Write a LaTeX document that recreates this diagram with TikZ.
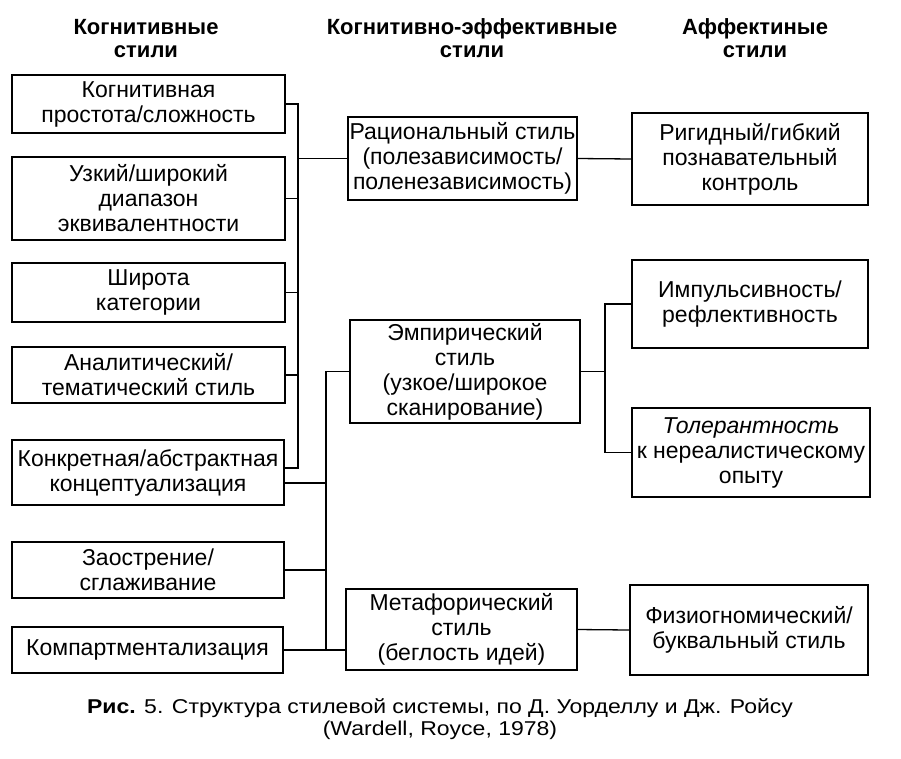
\documentclass[tikz,border=0pt]{standalone}
\usepackage{fontspec}
\setmainfont{Liberation Sans}
\newfontfamily\capfont{Liberation Sans}[FakeStretch=1.15]
\begin{document}
\begin{tikzpicture}[x=1pt, y=-1pt, line width=1.3pt,
  every node/.style={font=\fontsize{23}{25}\selectfont, align=center, inner sep=0pt},
  b/.style={draw, line width=1.4pt},
  h/.style={font=\fontsize{22}{23}\selectfont\bfseries}]
  \useasboundingbox (0,0) rectangle (901,758);
  % column headers
  \node[h] (hkog) at (146,38.5) {Когнитивные\\стили};
  \node[h] (hke) at (472,38.5) {Когнитивно-эффективные\\стили};
  \node[h] (haff) at (755,38.5) {Аффектиные\\стили};
  % cognitive styles
  \node[b, minimum width=273pt, minimum height=58pt] (prost) at (148.5,104) {Когнитивная\\простота/сложность};
  \node[b, minimum width=273pt, minimum height=83pt] (diap) at (148.5,198.5) {Узкий/широкий\\диапазон\\эквивалентности};
  \node[b, minimum width=273pt, minimum height=59pt] (shir) at (148.5,292.5) {Широта\\категории};
  \node[b, minimum width=273pt, minimum height=56pt] (anal) at (148.5,375) {Аналитический/\\тематический стиль};
  \node[b, minimum width=272pt, minimum height=65pt] (konk) at (148,472.5) {Конкретная/абстрактная\\концептуализация};
  \node[b, minimum width=272pt, minimum height=56pt] (zaos) at (148,570) {Заострение/\\сглаживание};
  \node[b, minimum width=271pt, minimum height=46pt] (komp) at (147.5,650) {Компартментализация};
  % cognitive-affective styles
  \node[b, minimum width=229pt, minimum height=83pt] (rac) at (462.5,158.5) {Рациональный стиль\\(полезависимость/\\поленезависимость)};
  \node[b, minimum width=230pt, minimum height=103pt] (emp) at (465,371.5) {Эмпирический\\стиль\\(узкое/широкое\\сканирование)};
  \node[b, minimum width=231pt, minimum height=81pt] (meta) at (461.5,629.5) {Метафорический\\стиль\\(беглость идей)};
  % affective styles
  \node[b, minimum width=236pt, minimum height=92pt] (rig) at (750,159) {Ригидный/гибкий\\познавательный\\контроль};
  \node[b, minimum width=236pt, minimum height=88pt] (imp) at (750,304) {Импульсивность/\\рефлективность};
  \node[b, minimum width=238pt, minimum height=89pt] (tol) at (751,452.5) {\itshape Толерантность\\к нереалистическому\\опыту};
  \node[b, minimum width=238pt, minimum height=90pt] (fiz) at (749,630) {Физиогномический/\\буквальный стиль};
  % caption
  \node[font=\capfont\fontsize{20}{22}\selectfont] (cap) at (440,719) {\textbf{Рис.} 5. Структура стилевой системы, по Д. Уорделлу и Дж. Ройсу\\(Wardell, Royce, 1978)};
  % buses
  \coordinate (b1) at (298,0);
  \coordinate (b2) at (326,0);
  \coordinate (b3) at (605,0);
  \coordinate (k5hi) at ([yshift=4.5pt]konk.east);
  \coordinate (k5lo) at ([yshift=-10.5pt]konk.east);
  \draw (prost.east) -| (b1 |- k5hi) -- (k5hi);
  \foreach \n in {diap, shir, anal}
    \draw (\n.east) -- (\n.east -| b1);
  \draw (b1 |- rac.west) -- (rac.west);
  \draw (emp.west) -| (b2 |- komp.east);
  \draw (komp.east) -- (komp.east -| meta.west);
  \draw (k5lo) -- (k5lo -| b2);
  \draw (zaos.east) -- (zaos.east -| b2);
  \draw (imp.west) -| (b3 |- tol.west) -- (tol.west);
  \draw (emp.east) -- (emp.east -| b3);
  \draw (rac.east) -- (rig.west);
  \draw (meta.east) -- (fiz.west);
\end{tikzpicture}
\end{document}
